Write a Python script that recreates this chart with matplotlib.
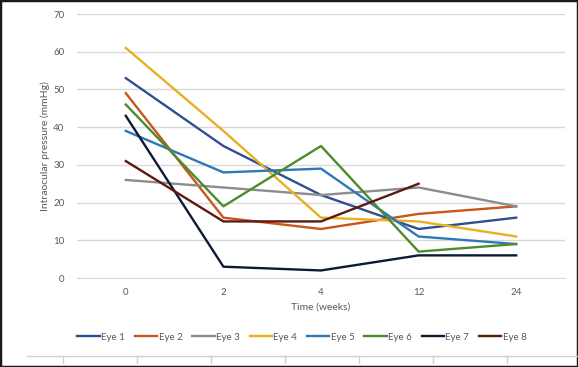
import matplotlib
matplotlib.use("Agg")
import matplotlib.pyplot as plt
import numpy as np
from matplotlib.lines import Line2D

# ─── Data ─────────────────────────────────────────────────────────────────────

weeks = ["0", "2", "4", "12", "24"]
eye_labels = ["Eye 1", "Eye 2", "Eye 3", "Eye 4", "Eye 5", "Eye 6", "Eye 7", "Eye 8"]

eye1 = [53, 35, 22, 13, 16]
eye2 = [49, 16, 13, 17, 19]
eye3 = [26, 24, 22, 24, 19]
eye4 = [61, 39, 16, 15, 11]
eye5 = [39, 28, 29, 11, 9]
eye6 = [46, 19, 35, 7, 9]
eye7 = [43, 3, 2, 6, 6]
eye8 = [31, 15, 15, 25, np.nan]

colors = ["#2F4F8F", "#C9561A", "#8C8C8C", "#E8B020",
          "#2E78B8", "#4C8C2C", "#0D1A33", "#5C1A0E"]

TEXT = "#595959"
GRID = "#D9D9D9"

plt.rcParams["font.family"] = ["Lato", "DejaVu Sans"]

fig = plt.figure(figsize=(5.78, 3.67), dpi=100)
ax = fig.add_axes([77 / 578, 1 - 278 / 367, 488 / 578, 264 / 367])

x = np.arange(len(weeks))
for vals, lab, col in zip([eye1, eye2, eye3, eye4, eye5, eye6, eye7, eye8],
                          eye_labels, colors):
    ax.plot(x, vals, color=col, lw=1.7, label=lab)

ax.set_xlim(-0.5, len(weeks) - 0.5)
ax.set_ylim(0, 70)
ax.set_yticks(range(0, 71, 10))
ax.set_xticks(x)
ax.set_xticklabels(weeks)
ax.yaxis.grid(True, color=GRID, lw=1)
ax.set_axisbelow(True)
for s in ["top", "right", "left"]:
    ax.spines[s].set_visible(False)
ax.spines["bottom"].set_color(GRID)
ax.tick_params(length=0, colors=TEXT, labelsize=7, pad=7)
ax.tick_params(axis="y", pad=9)

ax.set_xlabel("Time (weeks)", color=TEXT, fontsize=7.5, labelpad=4)
ax.set_ylabel("Intraocular pressure (mmHg)", color=TEXT, fontsize=7.5, labelpad=2)

ax.legend(loc="center", bbox_to_anchor=(302 / 578, 1 - 337 / 367),
          bbox_transform=fig.transFigure, ncol=8, frameon=False,
          fontsize=7, labelcolor=TEXT, handlelength=2.3, handletextpad=0.15,
          columnspacing=1.0)

# stray axis line at the bottom of the screenshot
fig.add_artist(Line2D([27 / 578, 1], [1 - 356 / 367] * 2, color="#D0D0D0", lw=1))
for tx in [63, 137, 211, 285, 359, 433, 507]:
    fig.add_artist(Line2D([tx / 578] * 2, [1 - 356 / 367, 1 - 363 / 367],
                          color="#D0D0D0", lw=1))

# outer border
fig.add_artist(plt.Rectangle((0, 0), 1, 1, transform=fig.transFigure,
                             fill=False, edgecolor="#1A1A1A", lw=2.5))

fig.savefig("out.png", dpi=100)
